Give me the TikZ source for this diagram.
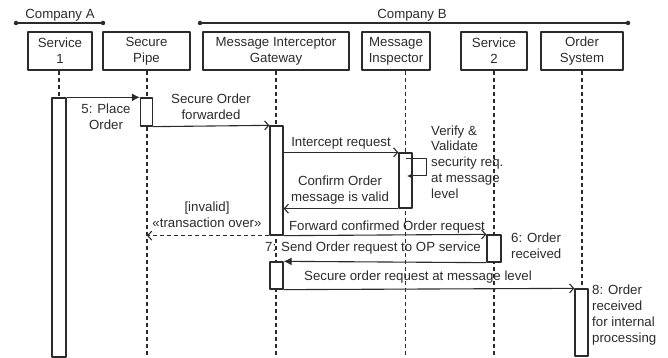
\documentclass[tikz,border=0pt]{standalone}
\usepackage{fontspec}
\setmainfont{Liberation Sans}
\usetikzlibrary{arrows.meta}
\definecolor{ink}{HTML}{2B2B2B}
\begin{document}
\begin{tikzpicture}[>=latex,line join=bevel,
  every node/.style={text=ink,font=\fontsize{13.3}{15.8}\selectfont,inner sep=0pt,align=center},
  headbox/.style={draw=ink,line width=1.3bp,minimum height=38bp},
  actbox/.style={draw=ink,fill=white,line width=1.3bp,minimum width=13bp},
  lifeline/.style={draw=ink,line width=1.1bp,dash pattern=on 4.5bp off 2.5bp},
  callmsg/.style={draw=ink,line width=1.1bp,-{Latex[length=8bp,width=8bp]}},
  asyncmsg/.style={draw=ink,line width=1.1bp,-{Straight Barb[length=4bp,width=9bp]}},
  replymsg/.style={asyncmsg,dash pattern=on 4.5bp off 2.5bp},
  dotend/.style={circle,fill=ink,minimum size=4.5bp},
]
\useasboundingbox (0bp,0bp) rectangle (668bp,358bp);
%%
\node (dot_a0) at (16bp,335bp) [dotend] {};
  \node (dot_a1) at (103bp,335bp) [dotend] {};
  \node (dot_b0) at (200bp,335bp) [dotend] {};
  \node (dot_b1) at (628bp,335bp) [dotend] {};
  \node (lbl_ca) at (60bp,343bp) {Company A};
  \node (lbl_cb) at (412bp,343bp) {Company B};
  \draw [ink,line width=1.1bp] (dot_a0) -- (dot_a1);
  \draw [ink,line width=1.1bp] (dot_b0) -- (dot_b1);
%
\node (node_svc1) at (60bp,307bp) [headbox,minimum width=64bp] {Service\\1};
  \node (node_pipe) at (146.5bp,307bp) [headbox,minimum width=87bp] {Secure\\Pipe};
  \node (node_gw) at (276bp,307bp) [headbox,minimum width=146bp] {Message Interceptor\\Gateway};
  \node (node_insp) at (396bp,307bp) [headbox,minimum width=68bp] {Message\\Inspector};
  \node (node_svc2) at (494bp,307bp) [headbox,minimum width=66bp] {Service\\2};
  \node (node_ord) at (582bp,307bp) [headbox,minimum width=82bp] {Order\\System};
%
\coordinate (low_svc1) at (59bp,0bp);
  \coordinate (low_pipe) at (147bp,0bp);
  \coordinate (low_gw) at (276bp,0bp);
  \coordinate (low_insp) at (405.5bp,0bp);
  \coordinate (low_svc2) at (494bp,0bp);
  \coordinate (low_ord) at (582bp,0bp);
  \draw [lifeline] (node_svc1.south -| low_svc1) -- (low_svc1);
  \draw [lifeline] (node_pipe.south -| low_pipe) -- (low_pipe);
  \draw [lifeline] (node_gw.south) -- (low_gw);
  \draw [lifeline] (node_insp.south -| low_insp) -- (low_insp);
  \draw [lifeline] (node_svc2.south) -- (low_svc2);
  \draw [lifeline] (node_ord.south) -- (low_ord);
%
\node (act_svc1) at (59bp,130.5bp) [actbox,minimum width=14bp,minimum height=259bp] {};
  \node (act_pipe) at (146.5bp,246bp) [actbox,minimum width=12bp,minimum height=28bp] {};
  \node (act_gw1) at (276.5bp,177.5bp) [actbox,minimum height=109bp] {};
  \node (act_insp) at (405.5bp,177.5bp) [actbox,minimum height=55bp] {};
  \node (act_svc2) at (494bp,109.5bp) [actbox,minimum width=14bp,minimum height=27bp] {};
  \node (act_gw2) at (276.5bp,82.5bp) [actbox,minimum height=27bp] {};
  \node (act_ord) at (581.5bp,35.5bp) [actbox,minimum height=67bp] {};
%
\coordinate (self_a) at (405.5bp,199bp);
  \coordinate (self_b) at (426bp,199bp);
  \coordinate (self_c) at (407bp,182bp);
  \draw [callmsg] (act_svc1.north east) -- (act_pipe.north west);
  \draw [asyncmsg] (act_pipe.south east) -- (act_gw1.north west);
  \draw [asyncmsg] (act_gw1.east |- act_insp.north) -- (act_insp.north west);
  \draw [ink,line width=1bp,-{Latex[length=5bp,width=5bp]}] (self_a) -- (self_b) |- (self_c);
  \draw [asyncmsg] (act_insp.south west) -- (act_insp.south west -| act_gw1.east);
  \draw [replymsg] (act_gw1.south west) -- (act_gw1.south west -| low_pipe);
  \draw [asyncmsg] (act_gw1.south east) -- (act_svc2.north west);
  \draw [callmsg] (act_svc2.south west) -- (act_gw2.north east);
  \draw [asyncmsg] (act_gw2.south east) -- (act_ord.north west);
%
\node (lbl_5) at (106bp,241bp) {5: Place\\Order};
  \node (lbl_fwd) at (211bp,251bp) {Secure Order\\forwarded};
  \node (lbl_int) at (341bp,215bp) {Intercept request};
  \node (lbl_ver) at (431bp,196bp) [anchor=west,align=left] {Verify \&\\Validate\\security req.\\at message\\level};
  \node (lbl_conf) at (340bp,168bp) {Confirm Order\\message is valid};
  \node (lbl_inv) at (207bp,143bp) {[invalid]\\«transaction over»};
  \node (lbl_fcr) at (387bp,131bp) {Forward confirmed Order request};
  \node (lbl_7) at (373bp,110bp) {7: Send Order request to OP service};
  \node (lbl_6) at (511bp,112bp) [anchor=west,align=left] {6: Order\\received};
  \node (lbl_sec) at (418bp,81bp) {Secure order request at message level};
  \node (lbl_8) at (592bp,43bp) [anchor=west,align=left] {8: Order\\received\\for internal\\processing};
%
\end{tikzpicture}
\end{document}
